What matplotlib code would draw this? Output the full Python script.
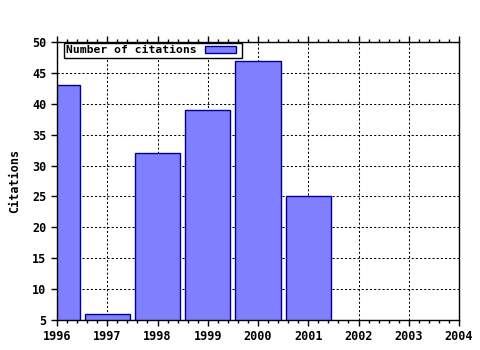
import matplotlib
matplotlib.use("Agg")
import matplotlib.pyplot as plt
from matplotlib.ticker import MultipleLocator
from matplotlib.legend_handler import HandlerPatch, update_from_first_child
from matplotlib.patches import Rectangle
from matplotlib.container import BarContainer

years = [1996, 1997, 1998, 1999, 2000, 2001]
citations = [43, 6, 32, 39, 47, 25]
xticks = [1996, 1997, 1998, 1999, 2000, 2001, 2002, 2003, 2004]
yticks = [5, 10, 15, 20, 25, 30, 35, 40, 45, 50]

plt.rcParams['font.family'] = ['DejaVu Sans Mono']
plt.rcParams['font.weight'] = 'bold'

fig = plt.figure(figsize=(4.8, 3.5), dpi=100)
ax = fig.add_axes([57/480, 1-320/350, (459-57)/480, (320-42)/350])

bars = ax.bar(years, citations, width=0.9, color='#8080ff', edgecolor='#000090',
              linewidth=1.0, label='Number of citations', zorder=2)

ax.set_xlim(1996, 2004)
ax.set_ylim(5, 50)
ax.set_xticks(xticks)
ax.set_xticklabels([str(x) for x in xticks], fontsize=8.5, fontweight='bold')
ax.set_yticks(yticks)
ax.set_yticklabels([str(y) for y in yticks], fontsize=8.5, fontweight='bold')
ax.xaxis.set_minor_locator(MultipleLocator(0.2))

ax.tick_params(axis='x', which='both', direction='out', top=True, bottom=True, pad=3)
ax.tick_params(axis='x', which='major', length=4, width=1)
ax.tick_params(axis='x', which='minor', length=2, width=1)
ax.tick_params(axis='y', which='major', direction='out', left=True, right=False, length=4, width=1)

ax.grid(True, which='major', color='black', linestyle=(0, (2, 2)), linewidth=0.75, zorder=1)
ax.set_axisbelow(True)
for s in ax.spines.values():
    s.set_color('black')
    s.set_linewidth(1.0)

ax.set_ylabel('Citations', fontsize=8.5, fontweight='bold', labelpad=8)


def make_patch(legend, orig_handle, xdescent, ydescent, width, height, fontsize):
    return Rectangle((-xdescent, -ydescent), width * 0.88, height)


leg = ax.legend(loc='upper left', bbox_to_anchor=(0.0174, 0.996), markerfirst=False,
                frameon=True, framealpha=1, fancybox=False, borderpad=0.2,
                handlelength=3.05, handleheight=0.6, handletextpad=0.75,
                borderaxespad=0.0, prop={'weight': 'bold', 'size': 8.2},
                handler_map={BarContainer: HandlerPatch(patch_func=make_patch,
                                                        update_func=update_from_first_child)})
leg.get_frame().set_edgecolor('black')
leg.get_frame().set_linewidth(1.0)

fig.savefig('out.png', dpi=100)
